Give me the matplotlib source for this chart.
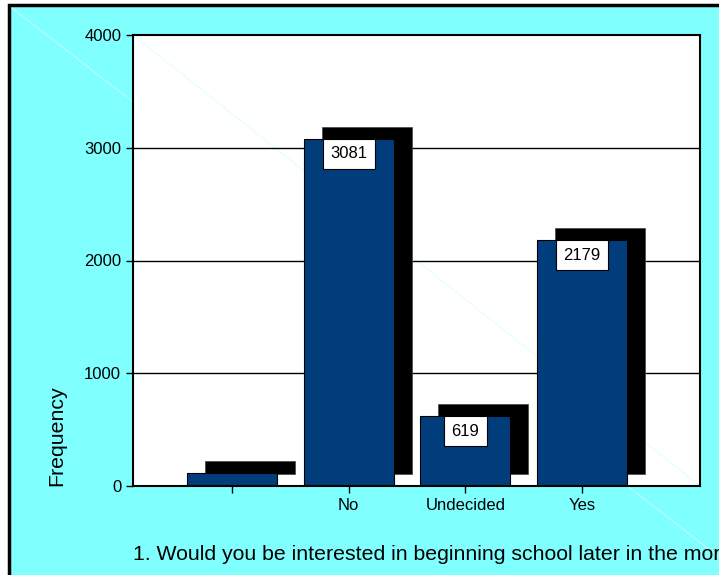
import matplotlib.pyplot as plt
from matplotlib.patches import Rectangle

categories = ["", "No", "Undecided", "Yes"]
counts = [117, 3081, 619, 2179]
shown_labels = [None, "3081", "619", "2179"]
yticks = [0, 1000, 2000, 3000, 4000]
question = "1. Would you be interested in beginning school later in the morning?"

plt.rcParams['font.family'] = ['Liberation Sans', 'DejaVu Sans']

W, H = 719, 575
fig = plt.figure(figsize=(W / 100, H / 100), dpi=100)
fig.patch.set_facecolor('white')

# cyan background with black frame on left/top (cropped on right/bottom)
fig.patches.append(Rectangle((9 / W, -0.1), 1.2, (H - 5) / H + 0.1, transform=fig.transFigure,
                             facecolor='#80ffff', edgecolor='black', linewidth=2.5, zorder=0))
fig.lines.append(plt.Line2D([12 / W, 1], [1 - 8 / H, 1 - 557 / H], transform=fig.transFigure,
                            color='#c8ffff', linewidth=0.6, zorder=1))

ax = fig.add_axes([133 / W, 89 / H, 567 / W, 451 / H])
ax.set_zorder(3)
ax.set_facecolor('white')
ax.plot([0, 1], [1, 0], transform=ax.transAxes, color='#d8ffff', linewidth=0.6, zorder=0)

x = list(range(len(categories)))
width = 0.77
dx = 0.154
dy = 106

# shadows
ax.bar([i + dx for i in x], counts, width=width, bottom=dy, color='black',
       edgecolor='#444444', linewidth=0.5, zorder=2)
bars = ax.bar(x, counts, width=width, color='#003d7a', edgecolor='black', linewidth=0.8, zorder=3)

for i, lab in enumerate(shown_labels):
    if lab is None:
        continue
    ax.annotate(lab, (x[i], counts[i]), xytext=(0, -5.5), textcoords='offset points',
                ha='center', va='top', fontsize=12, zorder=5,
                bbox=dict(boxstyle='square,pad=0.45', facecolor='white', edgecolor='black', linewidth=0.8))

ax.set_xlim(-0.848, 4.011)
ax.set_ylim(0, 4000)
ax.set_xticks(x)
ax.set_xticklabels(categories, fontsize=12)
ax.set_yticks(yticks)
ax.set_yticklabels([str(v) for v in yticks], fontsize=12)
ax.tick_params(axis='both', direction='out', length=5, width=1, colors='black')
ax.tick_params(axis='x', pad=3.5)
for v in yticks[1:-1]:
    ax.axhline(v, color='black', linewidth=1, zorder=1)
for s in ax.spines.values():
    s.set_linewidth(1.5)
    s.set_zorder(6)

fig.text(57 / W, 1 - 486 / H, "Frequency", rotation=90, ha='center', va='bottom', fontsize=15.3)
fig.text(133 / W, 1 - 555 / H, question, ha='left', va='center', fontsize=15.3)

fig.savefig('out.png', dpi=100, facecolor=fig.get_facecolor())
